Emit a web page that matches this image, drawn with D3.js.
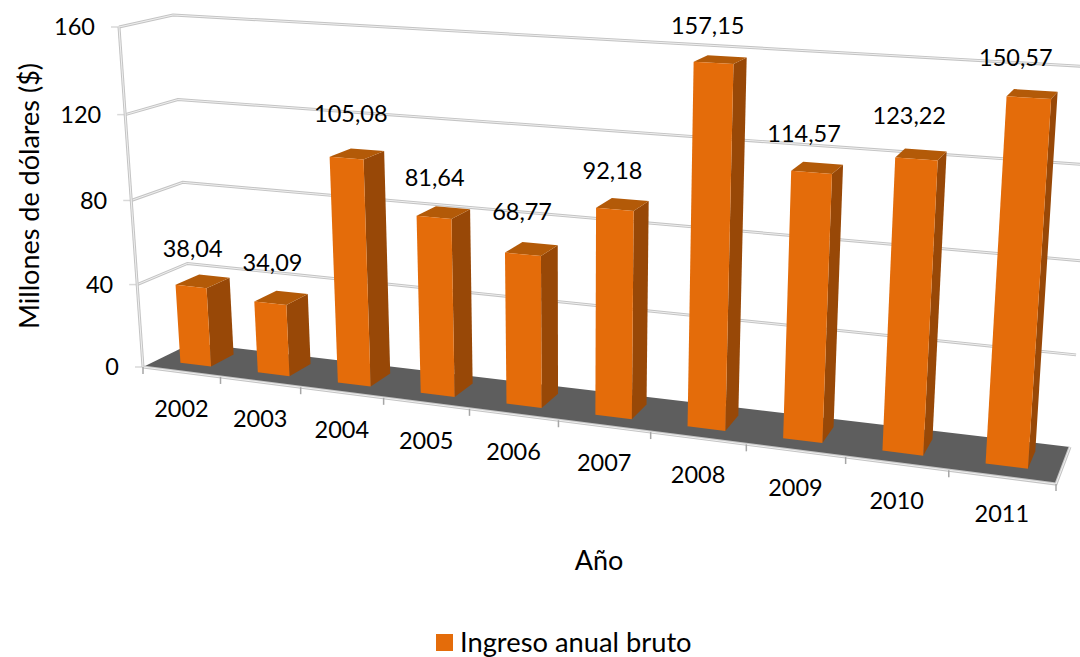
<!DOCTYPE html>
<html><head><meta charset="utf-8">
<style>html,body{margin:0;padding:0;background:#fff}svg{display:block}text{font-family:Lato,"Open Sans",sans-serif;fill:#000}</style>
<script src="https://cdn.jsdelivr.net/npm/d3@7/dist/d3.min.js"></script></head><body>
<svg id="c" width="1080" height="657"></svg>
<script>
const years=["2002","2003","2004","2005","2006","2007","2008","2009","2010","2011"];
const income=[38.04,34.09,105.08,81.64,68.77,92.18,157.15,114.57,123.22,150.57];
const incomeLabels=["38,04","34,09","105,08","81,64","68,77","92,18","157,15","114,57","123,22","150,57"];
const valueTicks=[0,40,80,120,160];
const yTitle="Millones de dólares ($)", xTitle="Año", seriesName="Ingreso anual bruto";

// perspective box corners: [front/back][left/right][bottom/top]
const box={fl0:[143,367],fl1:[119,27],fr0:[1056,484],fr1:[1083,81],
           bl0:[192,343],bl1:[173,15],br0:[1070,447],br1:[1095,67]};
const persp=0.835, perspV=0.96;
// hand-placed label offsets relative to the bar top
const nudgeX=[-3,-1,2,0,0,0,-2,-2,0,-4], nudgeY=[1,-2,-7,-2,-4,-1,-1,-1,-6,-3];
const xBand=d3.scaleBand().domain(years).range([0,1]).paddingInner(0.6).paddingOuter(0.3);
const yVal=d3.scaleLinear().domain([0,160]).range([0,1]);
const lerp=(a,b,k)=>[a[0]+(b[0]-a[0])*k,a[1]+(b[1]-a[1])*k];
function P(t,d,v){
  const u=persp*t/(1+(persp-1)*t), y=yVal(v), h=perspV*y/(1+(perspV-1)*y);
  const L=lerp(lerp(box.fl0,box.bl0,d),lerp(box.fl1,box.bl1,d),h);
  const R=lerp(lerp(box.fr0,box.br0,d),lerp(box.fr1,box.br1,d),h);
  return lerp(L,R,u);
}
const svg=d3.select("#c"), path=d3.line();
const poly=(pts,fill,stroke,w)=>svg.append("path").attr("d",path(pts)+"Z").attr("fill",fill).attr("stroke",stroke||"none").attr("stroke-width",w||0).attr("stroke-linejoin","round");
function dbl(pts){
  svg.append("path").attr("d",path(pts)).attr("fill","none").attr("stroke","#c4c4c4").attr("stroke-width",3);
  svg.append("path").attr("d",path(pts)).attr("fill","none").attr("stroke","#f4f4f4").attr("stroke-width",0.9);
}
// gridlines on left + back wall
valueTicks.forEach(v=>{
  const a=P(0,0,v);
  svg.append("line").attr("x1",a[0]-8).attr("x2",a[0]).attr("y1",a[1]).attr("y2",a[1]).attr("stroke","#d9d9d9").attr("stroke-width",1.5);
  if(v>0) dbl([P(0,0,v),P(0,1,v),P(1,1,v)]);
  svg.append("text").attr("x",a[0]-24).attr("y",a[1]).attr("dy","0.35em").attr("text-anchor","end").attr("font-size",23.5).text(v);
});
dbl([P(0,0,0),P(0,0,160)]);
// floor
poly([P(0,0,0),P(1,0,0),P(1,1,0),P(0,1,0)],"#5e5e5e");
dbl([P(0,0,0),P(1,0,0),P(1,1,0)]);
// category ticks
d3.range(0,11).forEach(i=>{
  const a=P(i/10,0,0);
  svg.append("line").attr("x1",a[0]).attr("x2",a[0]).attr("y1",a[1]).attr("y2",a[1]+7).attr("stroke","#a6a6a6").attr("stroke-width",1.5);
});
// bars
const d0=0.3,d1=0.78;
years.forEach((y,i)=>{
  const t0=xBand(y),t1=t0+xBand.bandwidth(),v=income[i];
  poly([P(t1,d0,0),P(t1,d1,0),P(t1,d1,v),P(t1,d0,v)],"#984807");
  poly([P(t0,d0,v),P(t1,d0,v),P(t1,d1,v),P(t0,d1,v)],"#B35A08");
  poly([P(t0,d0,0),P(t1,d0,0),P(t1,d0,v),P(t0,d0,v)],"#E46C0A");
  const c=P(t0+xBand.bandwidth()/2,(d0+d1)/2,v);
  svg.append("text").attr("x",c[0]-7-i*0.6+nudgeX[i]).attr("y",c[1]-33+nudgeY[i]).attr("dy","0.35em").attr("text-anchor","middle").attr("font-size",23.5).text(incomeLabels[i]);
  const l=P((i+0.5)/10,0,0);
  svg.append("text").attr("x",l[0]).attr("y",l[1]+37).attr("dy","0.35em").attr("text-anchor","middle").attr("font-size",23.5).text(y);
});
// titles
svg.append("text").attr("transform","translate(30,196) rotate(-90)").attr("dy","0.35em").attr("text-anchor","middle").attr("font-size",27).text(yTitle);
svg.append("text").attr("x",599).attr("y",561).attr("dy","0.35em").attr("text-anchor","middle").attr("font-size",27).text(xTitle);
svg.append("rect").attr("x",436).attr("y",634).attr("width",17).attr("height",17).attr("fill","#E46C0A");
svg.append("text").attr("x",460).attr("y",642).attr("dy","0.35em").attr("font-size",27.3).text(seriesName);
</script></body></html>
